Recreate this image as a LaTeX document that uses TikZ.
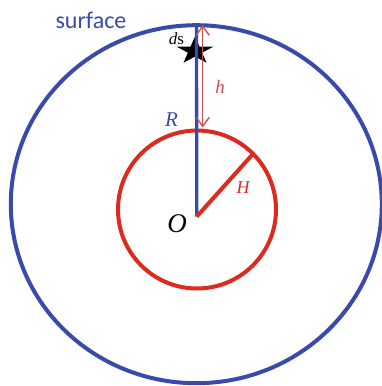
\documentclass[tikz,border=0pt]{standalone}
\usepackage{fontspec}
\setmainfont{Liberation Serif}
\newfontfamily\surffont{Carlito}
\usetikzlibrary{arrows.meta,shapes.geometric}
\definecolor{cblue}{RGB}{58,74,170}
\definecolor{cred}{RGB}{220,42,30}
\definecolor{carrow}{RGB}{205,80,80}
\tikzset{
  bluecirc/.style={draw=cblue,line width=4pt},
  redcirc/.style={draw=cred,line width=4pt},
  lbl/.style={inner sep=0pt,font=\itshape}
}
\begin{document}
\begin{tikzpicture}[x=1pt,y=-1pt]
\useasboundingbox (0,0) rectangle (382,386);
\draw[bluecirc] (196.3,204.2) ellipse [x radius=185.5, y radius=179];
\draw[redcirc] (197,209.5) circle [radius=79];
\node[star,star points=5,star point ratio=2.618,fill=black,minimum size=29pt,inner sep=0pt,xscale=1.35] (ds) at (195,51) {};
\coordinate (top) at (196.5,25);
\coordinate (O) at (196.8,216.5);
\coordinate (Hend) at (252,155);
\coordinate (atop) at (202.7,25);
\coordinate (abot) at (202.7,127.5);
\draw[cblue,line width=3.3pt] (top) -- (O);
\draw[carrow,line width=1.4pt,{Straight Barb[length=9pt,width=13pt]}-{Straight Barb[length=9pt,width=13pt]}] (atop) -- (abot);
\draw[cred,line width=4pt] (O) -- (Hend);
\node[text=cblue,inner sep=0pt,font=\surffont\fontsize{24}{28}\selectfont] (surf) at (91,20) {surface};
\node[inner sep=0pt,font=\fontsize{17}{20}\selectfont] (dsl) at (176.5,39) {\textit{d}s};
\node[lbl,text=carrow,font=\itshape\fontsize{19}{22}\selectfont] (h) at (220,87) {h};
\node[lbl,text=cblue,font=\itshape\fontsize{21}{24}\selectfont] (R) at (171.5,119.5) {R};
\node[lbl,font=\itshape\fontsize{27}{30}\selectfont] (Ol) at (177,224) {O};
\node[lbl,text=cred,font=\itshape\fontsize{18}{21}\selectfont] (H) at (243,188) {H};
\end{tikzpicture}
\end{document}
